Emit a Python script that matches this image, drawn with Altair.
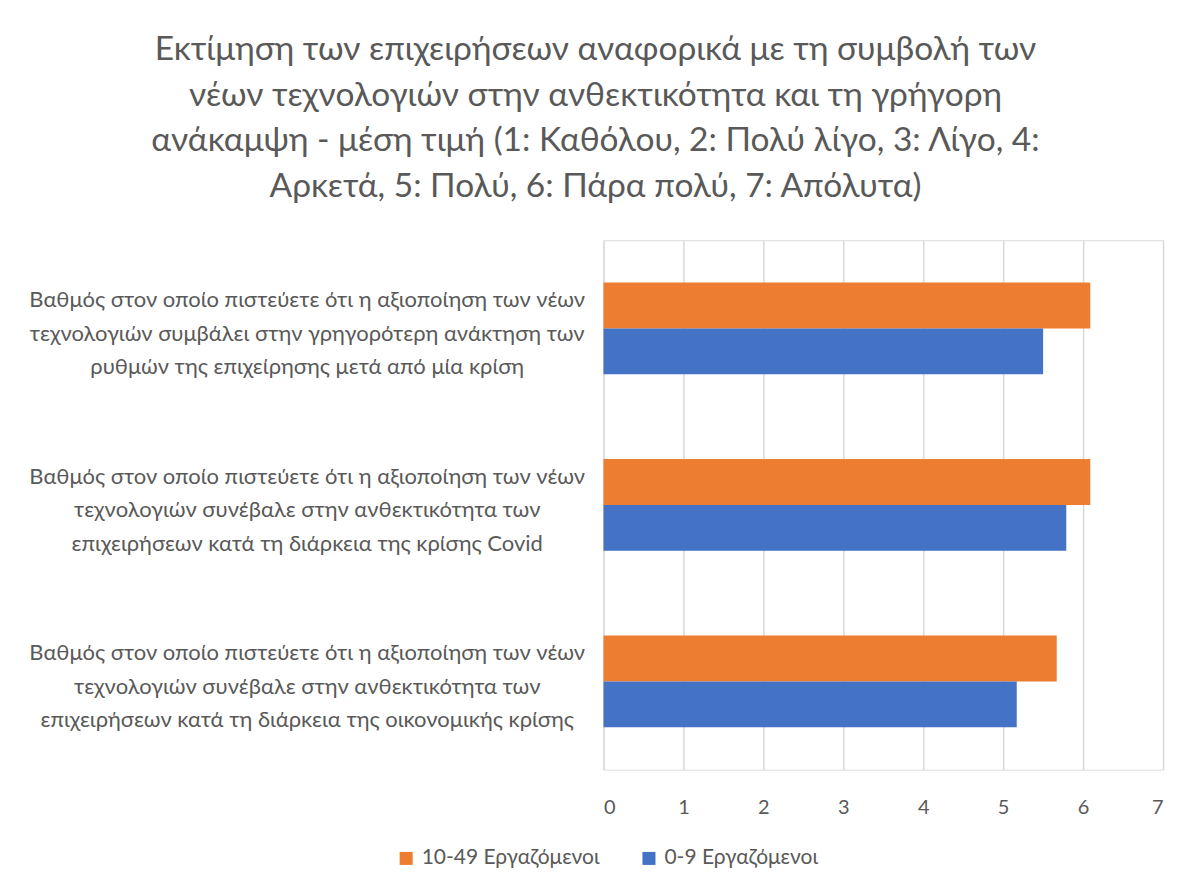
import altair as alt
import pandas as pd

categories = [
    "Βαθμός στον οποίο πιστεύετε ότι η αξιοποίηση των νέων|τεχνολογιών συμβάλει στην γρηγορότερη ανάκτηση των|ρυθμών της επιχείρησης μετά από μία κρίση",
    "Βαθμός στον οποίο πιστεύετε ότι η αξιοποίηση των νέων|τεχνολογιών συνέβαλε στην ανθεκτικότητα των|επιχειρήσεων κατά τη διάρκεια της κρίσης Covid",
    "Βαθμός στον οποίο πιστεύετε ότι η αξιοποίηση των νέων|τεχνολογιών συνέβαλε στην ανθεκτικότητα των|επιχειρήσεων κατά τη διάρκεια της οικονομικής κρίσης",
]
series = ["10-49 Εργαζόμενοι", "0-9 Εργαζόμενοι"]
values_10_49 = [6.09, 6.09, 5.67]
values_0_9 = [5.50, 5.79, 5.17]
colors = ["#ED7D31", "#4472C4"]
x_ticks = [0, 1, 2, 3, 4, 5, 6, 7]

title_lines = [
    "Εκτίμηση των επιχειρήσεων αναφορικά με τη συμβολή των",
    "νέων τεχνολογιών στην ανθεκτικότητα και τη γρήγορη",
    "ανάκαμψη - μέση τιμή (1: Καθόλου, 2: Πολύ λίγο, 3: Λίγο, 4:",
    "Αρκετά, 5: Πολύ, 6: Πάρα πολύ, 7: Απόλυτα)",
]

rows = []
for c, a, b in zip(categories, values_10_49, values_0_9):
    rows.append({"cat": c, "series": series[0], "value": a})
    rows.append({"cat": c, "series": series[1], "value": b})
df = pd.DataFrame(rows)

FONT = "Lato"
TXT = "#595959"

chart = (
    alt.Chart(df)
    .mark_bar()
    .encode(
        y=alt.Y(
            "cat:N",
            sort=categories,
            title=None,
            scale=alt.Scale(paddingInner=0.48, paddingOuter=0.24),
            axis=alt.Axis(
                labelExpr="split(datum.label, '|')",
                labelAlign="center",
                labelBaseline="middle",
                labelPadding=297,
                labelOffset=-28,
                labelLimit=0,
                labelFontSize=22,
                labelLineHeight=33.5,
                labelFont=FONT,
                labelColor=TXT,
                ticks=False,
                domain=False,
                grid=False,
            ),
        ),
        yOffset=alt.YOffset("series:N", sort=series),
        x=alt.X(
            "value:Q",
            title=None,
            scale=alt.Scale(domain=[0, 7], nice=False),
            axis=alt.Axis(
                values=x_ticks,
                ticks=False,
                domain=False,
                grid=True,
                gridColor="#D9D9D9",
                gridWidth=1.5,
                labelPadding=28,
                labelFontSize=20,
                labelFont=FONT,
                labelColor=TXT,
            ),
        ),
        color=alt.Color(
            "series:N",
            sort=series,
            scale=alt.Scale(domain=series, range=colors),
            legend=alt.Legend(
                title=None,
                orient="none",
                direction="horizontal",
                legendX=-208,
                legendY=608,
                symbolType="square",
                symbolSize=170,
                symbolStrokeWidth=0,
                labelFontSize=21,
                labelFont=FONT,
                labelColor=TXT,
                labelLimit=0,
                columnPadding=38,
                labelOffset=5,
            ),
        ),
    )
    .properties(
        width=560,
        height=530,
        title=alt.TitleParams(
            text=title_lines,
            font=FONT,
            fontSize=33.5,
            fontWeight="normal",
            color=TXT,
            anchor="middle",
            dx=-288,
            offset=36,
            lineHeight=45.5,
        ),
        autosize=alt.AutoSizeParams(type="none"),
        padding={"left": 596, "top": 232, "right": 20, "bottom": 130},
    )
    .configure_view(stroke="transparent", strokeWidth=0)
    .configure(background="white")
)

chart.save("out.html", embed_options={"renderer": "svg", "actions": False})
